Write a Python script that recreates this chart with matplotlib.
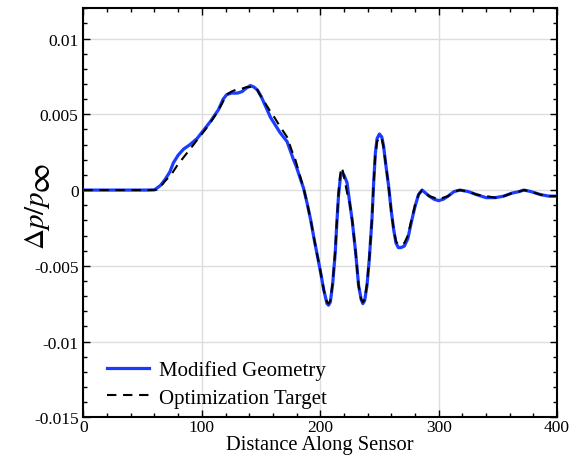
import numpy as np
import matplotlib
matplotlib.use("Agg")
from matplotlib import pyplot as plt
from matplotlib.ticker import MultipleLocator, FixedLocator

plt.rcParams['font.family'] = ['Liberation Serif', 'DejaVu Serif']
plt.rcParams['mathtext.fontset'] = 'stix'

# modified geometry (blue)
xMod = [0, 40, 55, 60, 65, 69, 73, 76, 80, 84.5, 90, 96, 100, 107, 114, 118, 121, 125, 130,
        134, 137, 141, 144, 147, 150, 154, 158, 162, 166, 172, 177, 180, 183, 186, 189, 192,
        195, 198, 200, 203, 205.7, 207, 208.5, 210.5, 212.7, 214, 215.5, 217, 218.3, 220,
        222.6, 225, 227, 230, 232.4, 234.5, 236, 237.5, 239.5, 241.5, 243.7, 245, 246.5, 248,
        250, 252, 253.5, 255.5, 257.7, 260, 262, 264, 266, 268, 271, 274, 277, 280, 283, 286,
        289, 292, 296, 300, 304, 308, 313, 318, 325, 332, 340, 348, 355, 362, 368, 372, 378,
        386, 393, 400]
yMod = [0, 0, 0, 0.00001, 0.0003, 0.0007, 0.0012, 0.0018, 0.0023, 0.0027, 0.0030, 0.0034,
        0.0038, 0.0045, 0.0053, 0.0060, 0.0063, 0.0064, 0.0064, 0.0065, 0.0067, 0.0069,
        0.0068, 0.0066, 0.0062, 0.0055, 0.0048, 0.0043, 0.0038, 0.0032, 0.0021, 0.0015,
        0.0008, 0.0001, -0.0009, -0.0020, -0.0033, -0.0045, -0.0053, -0.0066, -0.0075,
        -0.0076, -0.0074, -0.0062, -0.0041, -0.0022, -0.0003, 0.0008, 0.0011, 0.0010, 0.0005,
        -0.0009, -0.0020, -0.0042, -0.0063, -0.0072, -0.0075, -0.0073, -0.0063, -0.0045,
        -0.0019, 0.0003, 0.0024, 0.0034, 0.0037, 0.0035, 0.0029, 0.0016, 0.0003, -0.0014,
        -0.0026, -0.0035, -0.0038, -0.0038, -0.0037, -0.0032, -0.0021, -0.0011, -0.0003, 0.0,
        -0.0002, -0.0004, -0.0006, -0.0007, -0.0006, -0.0004, -0.0001, 0.0, -0.0001, -0.0003,
        -0.0005, -0.0005, -0.0004, -0.0002, -0.0001, 0.0, -0.0001, -0.0003, -0.0004, -0.0004]

# optimization target (dashed)
xTar = [0, 40, 55, 62, 66, 69, 74, 79, 85, 90, 95, 100, 106, 112.7, 117, 121, 125, 129.6, 134,
        138, 142, 145, 147, 149, 153, 157, 160.5, 166, 172, 176, 179, 183, 186, 189, 192, 195,
        198, 200, 203, 205.7, 207, 208.5, 210.5, 212.7, 214, 215.5, 216.8, 218, 219.3, 221,
        223, 225, 227, 230, 232.4, 234.5, 236, 237.5, 239.5, 241.5, 243.7, 245, 246.5, 248,
        250, 252, 253.5, 255.5, 257.7, 260, 262, 264, 266, 268, 271, 274, 277, 280, 283, 286,
        289, 292, 296, 300, 304, 308, 313, 318, 325, 332, 340, 348, 355, 362, 368, 372, 378,
        386, 393, 400]
yTar = [0, 0, 0, 0.00002, 0.0003, 0.0006, 0.0010, 0.0016, 0.0022, 0.0027, 0.0032, 0.0037,
        0.0043, 0.0051, 0.0057, 0.0063, 0.0065, 0.00665, 0.0067, 0.0068, 0.0068, 0.0068,
        0.0066, 0.0063, 0.0058, 0.0053, 0.0049, 0.0042, 0.0035, 0.0026, 0.0020, 0.0009,
        0.0001, -0.0009, -0.0020, -0.0033, -0.0045, -0.0053, -0.0066, -0.0074, -0.0075,
        -0.0073, -0.0061, -0.0040, -0.0021, -0.0002, 0.0010, 0.0015, 0.0012, 0.0005, -0.0003,
        -0.0009, -0.0020, -0.0042, -0.0063, -0.0072, -0.0074, -0.0072, -0.0062, -0.0044,
        -0.0019, 0.0003, 0.0023, 0.0032, 0.0035, 0.0034, 0.0028, 0.0016, 0.0003, -0.0014,
        -0.0026, -0.0034, -0.0036, -0.0036, -0.0035, -0.0030, -0.0020, -0.0010, -0.0003, 0.0,
        -0.0002, -0.0004, -0.0005, -0.0006, -0.0005, -0.0004, -0.0001, 0.0, -0.0001, -0.0003,
        -0.0004, -0.0005, -0.0004, -0.0002, -0.0001, 0.0, -0.0001, -0.0003, -0.0004, -0.0004]

yTicks = [0.01, 0.005, 0, -0.005, -0.01, -0.015]
yLabels = ["0.01", "0.005", "0", "-0.005", "-0.01", "-0.015"]
xTicks = [0, 100, 200, 300, 400]
xLabels = ["0", "100", "200", "300", "400"]

fig = plt.figure(figsize=(5.69, 4.60), dpi=100)
ax = fig.add_axes([0.1466, 0.0907, 0.8324, 0.8891])

ax.plot(xMod, yMod, color="#1a3cff", lw=2.3, label="Modified Geometry", zorder=3)
ax.plot(xTar, yTar, color="black", lw=1.5, ls=(0, (4.5, 3.2)), label="Optimization Target", zorder=4)

ax.set_xlim(0, 400)
ax.set_ylim(-0.015, 0.012)
ax.set_xticks(xTicks)
ax.set_xticklabels(xLabels)
ax.set_yticks(yTicks)
ax.set_yticklabels(yLabels)
ax.xaxis.set_minor_locator(MultipleLocator(20))
ax.yaxis.set_minor_locator(MultipleLocator(0.001))
ax.tick_params(which="both", direction="in", top=True, right=True, labelsize=12.5, width=1)
ax.tick_params(which="major", length=5)
ax.tick_params(which="minor", length=3)
ax.tick_params(axis="x", pad=1)
ax.grid(True, which="major", color="#dddddd", lw=1)
ax.set_axisbelow(True)
for s in ax.spines.values():
    s.set_linewidth(1.5)

ax.set_xlabel("Distance Along Sensor", fontsize=14.8)
ax.xaxis.set_label_coords(0.5, -0.043)

# y label: big infinity sign as in the original
fig.text(0.0659, 0.5207, r"$\Delta p/p$", rotation=90, fontsize=21, ha="center", va="center")
fig.text(0.0729, 0.6115, r"$\infty$", rotation=90, fontsize=24, ha="center", va="center")

ax.legend(loc=3, frameon=False, fontsize=15, handlelength=2.0, handletextpad=0.5,
          borderaxespad=0.0, labelspacing=0.4, bbox_to_anchor=(0.032, 0.003))

fig.savefig("out.png", dpi=100)
